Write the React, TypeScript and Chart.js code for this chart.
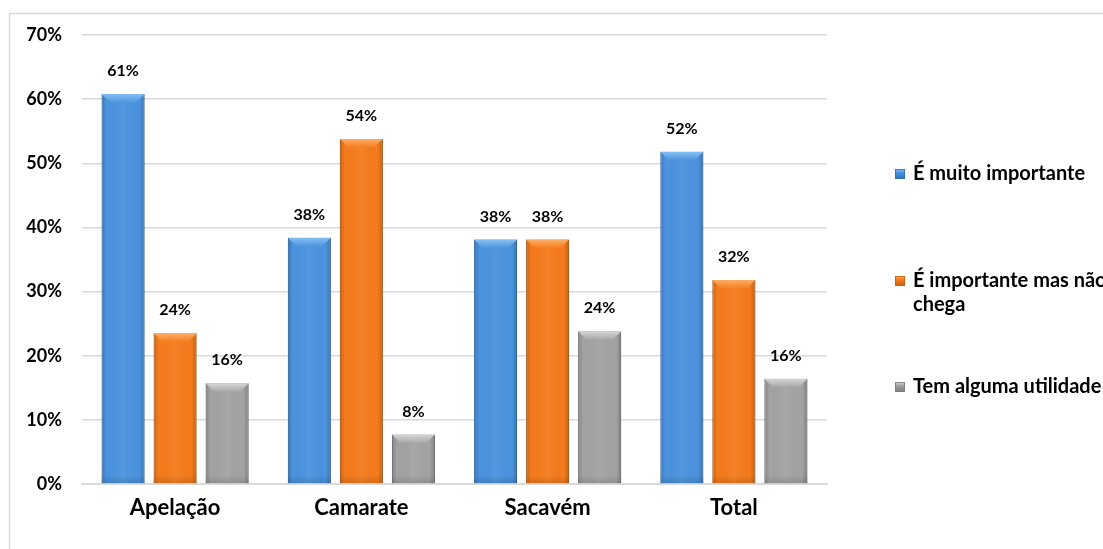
import React, { useEffect, useRef } from "react";
import { Chart, registerables } from "chart.js";

Chart.register(...registerables);

const categories = ["Apelação", "Camarate", "Sacavém", "Total"];
const seriesNames = ["É muito importante", "É importante mas não chega", "Tem alguma utilidade"];
const legendLines = [["É muito importante"], ["É importante mas não", "chega"], ["Tem alguma utilidade"]];
const muitoImportante = [60.8, 38.4, 38.1, 51.8];
const importanteNaoChega = [23.5, 53.8, 38.1, 31.8];
const algumaUtilidade = [15.7, 7.7, 23.8, 16.4];
const yMax = 70;
const yStep = 10;

const FONT = "Lato, 'Open Sans', sans-serif";
const fills = ["#4a93de", "#f57b1c", "#a3a3a3"];
const edges = ["#2f6fb3", "#c4600f", "#7a7a7a"];
const lights = ["#8cc4f6", "#ffb36a", "#dcdcdc"];

const bevelPlugin = {
  id: "bevel",
  afterDatasetsDraw(chart: any) {
    const ctx = chart.ctx;
    chart.data.datasets.forEach((ds: any, di: number) => {
      const meta = chart.getDatasetMeta(di);
      meta.data.forEach((bar: any) => {
        const w = bar.width;
        const left = bar.x - w / 2;
        const right = bar.x + w / 2;
        const top = bar.y;
        const base = bar.base;
        const h = base - top;
        ctx.save();
        const g = ctx.createLinearGradient(left, 0, right, 0);
        g.addColorStop(0, "rgba(0,0,0,0.18)");
        g.addColorStop(0.12, "rgba(0,0,0,0.0)");
        g.addColorStop(0.5, "rgba(255,255,255,0.06)");
        g.addColorStop(0.88, "rgba(0,0,0,0.0)");
        g.addColorStop(1, "rgba(0,0,0,0.22)");
        ctx.fillStyle = g;
        ctx.fillRect(left, top, w, h);
        const b = Math.min(9, h / 2);
        ctx.beginPath();
        ctx.moveTo(left, top);
        ctx.lineTo(right, top);
        ctx.lineTo(right - b, top + b);
        ctx.lineTo(left + b, top + b);
        ctx.closePath();
        const tg = ctx.createLinearGradient(0, top, 0, top + b);
        tg.addColorStop(0, lights[di]);
        tg.addColorStop(1, fills[di]);
        ctx.fillStyle = tg;
        ctx.globalAlpha = 0.9;
        ctx.fill();
        ctx.globalAlpha = 1;
        const bb = Math.min(8, h / 3);
        const bg = ctx.createLinearGradient(0, base - bb, 0, base);
        bg.addColorStop(0, "rgba(0,0,0,0)");
        bg.addColorStop(1, "rgba(0,0,0,0.12)");
        ctx.fillStyle = bg;
        ctx.fillRect(left, base - bb, w, bb);
        ctx.restore();
      });
    });
  },
};

const labelsPlugin = {
  id: "valueLabels",
  afterDatasetsDraw(chart: any) {
    const ctx = chart.ctx;
    ctx.save();
    ctx.font = `bold 16px ${FONT}`;
    ctx.fillStyle = "#000";
    ctx.textAlign = "center";
    ctx.textBaseline = "middle";
    chart.data.datasets.forEach((ds: any, di: number) => {
      const meta = chart.getDatasetMeta(di);
      meta.data.forEach((bar: any, i: number) => {
        ctx.fillText(`${Math.round(ds.data[i])}%`, bar.x, bar.y - 23);
      });
    });
    ctx.restore();
  },
};

const framePlugin = {
  id: "frame",
  beforeDraw(chart: any) {
    const ctx = chart.ctx;
    ctx.save();
    ctx.fillStyle = "#fff";
    ctx.fillRect(0, 0, chart.width, chart.height);
    ctx.strokeStyle = "#d9d9d9";
    ctx.lineWidth = 1.5;
    ctx.beginPath();
    ctx.moveTo(9.5, chart.height + 5);
    ctx.lineTo(9.5, 13.5);
    ctx.lineTo(chart.width + 5, 13.5);
    ctx.stroke();
    ctx.restore();
  },
};

const legendPlugin = {
  id: "sideLegend",
  afterDraw(chart: any) {
    const ctx = chart.ctx;
    const x = 895;
    const centers = [174, 281, 387];
    const lineH = 24;
    ctx.save();
    ctx.font = `bold 20px ${FONT}`;
    ctx.fillStyle = "#000";
    ctx.textAlign = "left";
    ctx.textBaseline = "middle";
    legendLines.forEach((lines, i) => {
      const y = centers[i];
      const s = 10;
      const g = ctx.createLinearGradient(0, y - s / 2, 0, y + s / 2);
      g.addColorStop(0, lights[i]);
      g.addColorStop(0.35, fills[i]);
      g.addColorStop(1, edges[i]);
      ctx.fillStyle = g;
      ctx.fillRect(x, y - s / 2, s, s);
      ctx.strokeStyle = edges[i];
      ctx.lineWidth = 0.8;
      ctx.strokeRect(x + 0.4, y - s / 2 + 0.4, s - 0.8, s - 0.8);
      ctx.fillStyle = "#000";
      lines.forEach((ln, k) => ctx.fillText(ln, x + 18, y + k * lineH));
    });
    ctx.restore();
  },
};

export default function App() {
  const ref = useRef<HTMLCanvasElement | null>(null);
  useEffect(() => {
    document.body.style.margin = "0";
    if (!ref.current) return;
    const series = [muitoImportante, importanteNaoChega, algumaUtilidade];
    const chart = new Chart(ref.current, {
      type: "bar",
      data: {
        labels: categories,
        datasets: series.map((d, i) => ({
          label: seriesNames[i],
          data: d,
          backgroundColor: fills[i],
          borderColor: edges[i],
          borderWidth: 1,
          categoryPercentage: 0.838,
          barPercentage: 0.827,
        })),
      },
      options: {
        responsive: false,
        animation: false,
        layout: { padding: { left: 0, right: 276, top: 35, bottom: 0 } },
        plugins: {
          legend: { display: false },
          tooltip: { enabled: false },
        },
        scales: {
          x: {
            grid: { display: false, drawTicks: false },
            border: { color: "#d9d9d9", width: 2 },
            ticks: {
              padding: 11,
              color: "#000",
              font: { family: FONT, size: 22, weight: "bold" },
            },
            afterFit: (s: any) => {
              s.height = 65;
            },
          },
          y: {
            min: 0,
            max: yMax,
            grid: { color: "#d9d9d9", lineWidth: 1.5, drawTicks: false },
            border: { display: false },
            ticks: {
              stepSize: yStep,
              padding: 20,
              color: "#000",
              font: { family: FONT, size: 18, weight: "bold" },
              callback: (v: any) => `${v}%`,
            },
            afterFit: (s: any) => {
              s.width = 82;
            },
          },
        },
      },
      plugins: [framePlugin, bevelPlugin, labelsPlugin, legendPlugin],
    });
    return () => chart.destroy();
  }, []);
  return (
    <div style={{ width: 1103, height: 549 }}>
      <canvas ref={ref} width={1103} height={549} />
    </div>
  );
}
